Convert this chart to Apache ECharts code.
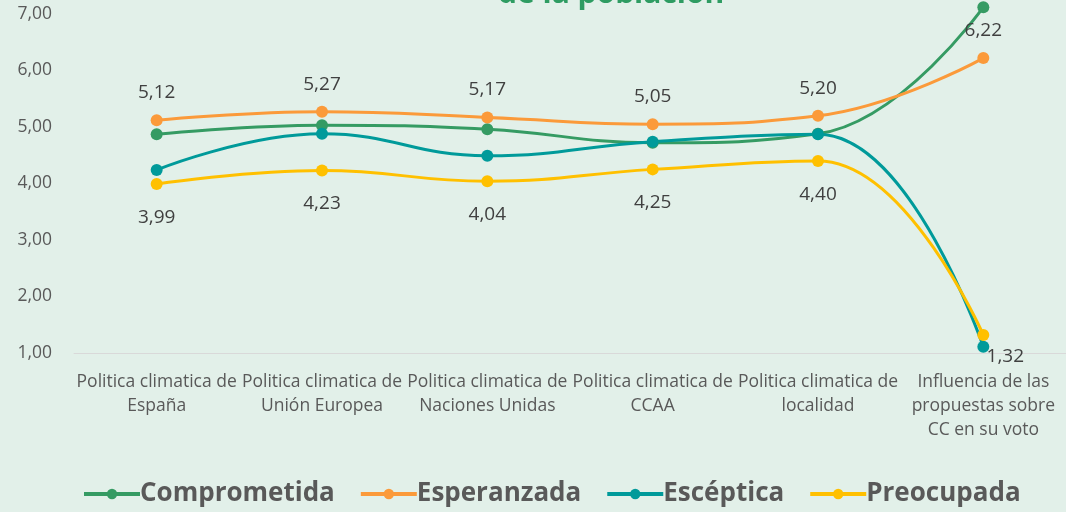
<!DOCTYPE html>
<html>
<head>
<meta charset="utf-8">
<script src="https://cdn.jsdelivr.net/npm/echarts@6/dist/echarts.min.js"></script>
<style>
  html, body { margin: 0; padding: 0; background: #e2f0e9; }
  #chart { width: 1066px; height: 512px; }
</style>
</head>
<body>
<div id="chart"></div>
<script>
// datos
var categorias = [
  'Politica climatica de\nEspaña',
  'Politica climatica de\nUnión Europea',
  'Politica climatica de\nNaciones Unidas',
  'Politica climatica de\nCCAA',
  'Politica climatica de\nlocalidad',
  'Influencia de las\npropuestas sobre\nCC en su voto'
];
var comprometida = [4.87, 5.03, 4.96, 4.72, 4.88, 7.12];
var esperanzada = [5.12, 5.27, 5.17, 5.05, 5.20, 6.22];
var esceptica = [4.24, 4.88, 4.49, 4.74, 4.87, 1.11];
var preocupada = [3.99, 4.23, 4.04, 4.25, 4.40, 1.32];

var fuente = '"Open Sans", "Noto Sans", sans-serif';
var colores = ['#359b63', '#fb9a3a', '#009a9a', '#ffc000'];

function coma(p) { return p.value.toFixed(2).replace('.', ','); }

function serie(nombre, datos, color, etiqueta) {
  return {
    name: nombre,
    type: 'line',
    smooth: 0.45,
    clip: false,
    data: datos,
    symbol: 'circle',
    symbolSize: 12,
    lineStyle: { width: 3, color: color },
    itemStyle: { color: color },
    label: etiqueta || { show: false }
  };
}

var myChart = echarts.init(document.getElementById('chart'));
myChart.setOption({
  backgroundColor: '#e2f0e9',
  animation: false,
  title: {
    text: 'de la población',
    left: 493,
    top: -26,
    textStyle: { color: '#2e9c62', fontSize: 30, fontWeight: 'bold', fontFamily: fuente }
  },
  grid: { left: 74, right: -5, top: 14, bottom: 159 },
  xAxis: {
    type: 'category',
    data: categorias,
    boundaryGap: true,
    axisTick: { show: false },
    axisLine: { lineStyle: { color: '#d9d9d9', width: 1 } },
    axisLabel: {
      interval: 0, color: '#595959', fontSize: 17.5, fontFamily: fuente,
      lineHeight: 24, margin: 17
    }
  },
  yAxis: {
    type: 'value',
    min: 1, max: 7, interval: 1,
    splitLine: { show: false },
    axisLabel: {
      color: '#595959', fontSize: 17.5, fontFamily: fuente, margin: 22,
      formatter: function (v) { return v.toFixed(2).replace('.', ','); }
    }
  },
  legend: {
    bottom: 0,
    left: 77,
    itemWidth: 56,
    itemHeight: 13,
    itemGap: 24,
    lineStyle: { width: 4 },
    textStyle: { color: '#595959', fontSize: 26, fontWeight: 'bold', fontFamily: fuente, padding: [0, 0, 0, -5] }
  },
  series: [
    serie('Comprometida', comprometida, colores[0]),
    serie('Esperanzada', esperanzada, colores[1], {
      show: true, position: 'top', distance: 12, color: '#404040', fontSize: 19, fontFamily: fuente,
      formatter: coma
    }),
    serie('Escéptica', esceptica, colores[2]),
    serie('Preocupada', preocupada.map(function (v, i) {
      if (i === preocupada.length - 1) {
        return { value: v, label: { position: 'bottom', offset: [22, 0], distance: 6 } };
      }
      return v;
    }), colores[3], {
      show: true, position: 'bottom', distance: 18, color: '#404040', fontSize: 19, fontFamily: fuente,
      formatter: coma
    })
  ]
});
</script>
</body>
</html>
